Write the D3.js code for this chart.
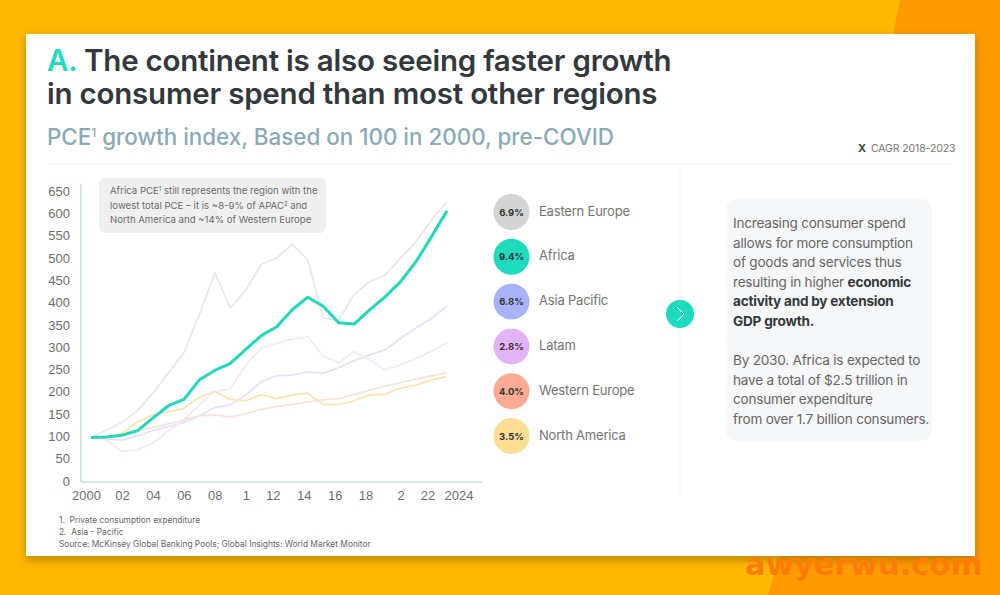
<!DOCTYPE html>
<html>
<head>
<meta charset="utf-8">
<script src="https://cdn.jsdelivr.net/npm/d3@7"></script>
<style>
    html, body { margin: 0; padding: 0; background: #ffb800; overflow: hidden; }
    svg { display: block; font-family: Inter, "Open Sans", sans-serif; }
    .tick text { font-size: 13px; fill: #6e6e6e; }
</style>
</head>
<body>
<svg id="chart" width="1000" height="595"></svg>
<script>
var years = d3.range(2000, 2024);

var easternEurope = [100,116,133,160,199,244,290,375,469,390,430,488,502,533,498,368,362,421,449,464,502,539,587,628];
var africa        = [100,101,105,115,143,171,185,229,250,266,297,328,348,386,414,394,357,354,386,415,449,494,550,608];
var asiaPacific   = [100,96,94,103,115,124,133,148,167,173,195,225,238,240,247,244,256,272,285,296,322,345,367,394];
var latam         = [100,94,68,72,87,115,139,173,203,208,262,300,311,320,326,282,267,292,274,252,262,277,294,312];
var westernEurope = [100,100,102,115,122,130,139,148,150,146,153,163,169,174,179,184,187,196,206,215,223,231,238,245];
var northAmerica  = [100,100,109,135,150,158,165,190,203,185,182,196,187,195,199,174,174,182,195,197,210,217,229,237];

var legendNames = ['Eastern Europe', 'Africa', 'Asia Pacific', 'Latam', 'Western Europe', 'North America'];
var legendCagr = ['6.9%', '9.4%', '6.8%', '2.8%', '4.0%', '3.5%'];
var legendColors = ['#d4d4d4', '#1edbbe', '#a9b3f8', '#e3b3f8', '#fcaa92', '#fbdd93'];
var lineColors = ['#e8e8e8', '#22d8ba', '#e1e3fb', '#f5e7fb', '#fae2d9', '#fbe5ae'];

var yTicks = d3.range(0, 651, 50);
var xTicks = d3.range(2000, 2025, 2);
var xTickLabels = ['2000', '02', '04', '06', '08', '1', '12', '14', '16', '18', '2', '22', '2024'];

var noteLines = [
    ['Africa PCE', '1', ' still represents the region with the'],
    ['lowest total PCE \u2013 it is ~8-9% of APAC', '2', ' and'],
    ['North America and ~14% of Western Europe']
];
var sideText = [
    [['Increasing consumer spend', 0]],
    [['allows for more consumption', 0]],
    [['of goods and services thus', 0]],
    [['resulting in higher ', 0], ['economic', 1]],
    [['activity and by extension', 1]],
    [['GDP growth.', 1]],
    [],
    [['By 2030. Africa is expected to', 0]],
    [['have a total of $2.5 trillion in', 0]],
    [['consumer expenditure', 0]],
    [['from over 1.7 billion consumers.', 0]]
];
var footnotes = ['1.\u00a0\u00a0Private consumption expenditure', '2.\u00a0\u00a0Asia - Pacific', 'Source: McKinsey Global Banking Pools; Global Insights: World Market Monitor'];

var svg = d3.select('#chart');

// background
svg.append('rect').attr('width', 1000).attr('height', 595).attr('fill', '#ffb800');
svg.append('path').attr('d', 'M900,0L1000,0L1000,595L768,595L780,556L893,34Z').attr('fill', '#ff9a00');

var defs = svg.append('defs');
var shadow = defs.append('filter').attr('id', 'cardShadow').attr('x', '-5%').attr('y', '-5%').attr('width', '110%').attr('height', '112%');
shadow.append('feDropShadow').attr('dx', 0).attr('dy', 4).attr('stdDeviation', 5).attr('flood-color', '#8a5a00').attr('flood-opacity', 0.55);

svg.append('rect').attr('x', 26).attr('y', 34).attr('width', 949).attr('height', 522).attr('fill', '#fff').attr('filter', 'url(#cardShadow)');

svg.append('text').attr('x', 745).attr('y', 575).attr('font-size', 30.6).attr('font-weight', 700)
    .attr('font-family', '"DejaVu Sans", sans-serif').attr('fill', '#fb7d08').text('awyerwu.com');

// title
var title = svg.append('g').attr('font-size', 29.5).attr('font-weight', 600).attr('letter-spacing', -0.22).attr('fill', '#33383c');
var firstLine = title.append('text').attr('x', 47).attr('y', 71);
firstLine.append('tspan').attr('fill', '#1edbbe').text('A.');
firstLine.append('tspan').text(' The continent is also seeing faster growth');
title.append('text').attr('x', 47).attr('y', 104).text('in consumer spend than most other regions');

var subtitle = svg.append('text').attr('x', 47).attr('y', 144.5).attr('font-size', 22.4).attr('font-weight', 500).attr('fill', '#8aaab6');
subtitle.append('tspan').text('PCE');
subtitle.append('tspan').attr('font-size', 12).attr('dy', -8).text('1');
subtitle.append('tspan').attr('dy', 8).text(' growth index, Based on 100 in 2000, pre-COVID');

svg.append('text').attr('x', 858).attr('y', 152).attr('font-size', 11).attr('font-weight', 700).attr('fill', '#444').text('X');
svg.append('text').attr('x', 871).attr('y', 152).attr('font-size', 10.5).attr('letter-spacing', -0.12).attr('fill', '#777').text('CAGR 2018-2023');

// dotted separators
svg.append('line').attr('x1', 47).attr('x2', 955).attr('y1', 164).attr('y2', 164)
    .attr('stroke', '#e6e6e6').attr('stroke-dasharray', '1.5 2.5');
svg.append('line').attr('x1', 680).attr('x2', 680).attr('y1', 164).attr('y2', 495)
    .attr('stroke', '#e6e6e6').attr('stroke-dasharray', '1.5 2.5');

// scales and axes
var x = d3.scaleLinear().domain([2000, 2023]).range([91, 447]);
var y = d3.scaleLinear().domain([0, 650]).range([482, 192]);

var axisColor = '#c9dcdc';
svg.append('line').attr('x1', 81).attr('x2', 81).attr('y1', y(668)).attr('y2', y(0))
    .attr('stroke', axisColor).attr('stroke-width', 1.5);
svg.append('line').attr('x1', 81).attr('x2', 482).attr('y1', y(0)).attr('y2', y(0))
    .attr('stroke', axisColor).attr('stroke-width', 1.5);

var yAxis = svg.append('g').attr('transform', 'translate(70,-1)')
    .call(d3.axisLeft(y).tickValues(yTicks).tickSize(0).tickPadding(0));
yAxis.select('.domain').remove();

var xAxis = svg.append('g').attr('transform', 'translate(0,' + (y(0) + 3) + ')')
    .call(d3.axisBottom(x).tickValues(xTicks).tickSize(0).tickPadding(6)
        .tickFormat(function(d, i) { return xTickLabels[i]; }));
xAxis.select('.domain').remove();
// the labels sit a little off their years in the original
xAxis.selectAll('text').attr('dx', function(d) {
    if (d === 2000) return -5;
    if (d >= 2012 && d !== 2020) return -4;
    return 0;
});

// lines, Africa last so it stays on top
var line = d3.line()
    .x(function(d, i) { return x(years[i]); })
    .y(function(d) { return y(d); });

var seriesList = [easternEurope, asiaPacific, latam, westernEurope, northAmerica, africa];
var seriesColors = [lineColors[0], lineColors[2], lineColors[3], lineColors[4], lineColors[5], lineColors[1]];
svg.append('g').selectAll('path').data(seriesList).enter().append('path')
    .attr('d', line)
    .attr('fill', 'none')
    .attr('stroke', function(d, i) { return seriesColors[i]; })
    .attr('stroke-width', function(d) { return d === africa ? 3 : 1.8; })
    .attr('stroke-linejoin', 'round');

// note box
svg.append('rect').attr('x', 99).attr('y', 178).attr('width', 227).attr('height', 55).attr('rx', 6).attr('fill', '#efefef');
var note = svg.append('g').attr('font-size', 9.6).attr('fill', '#6b6b6b');
noteLines.forEach(function(parts, i) {
    var t = note.append('text').attr('x', 110).attr('y', 194 + i * 14.5);
    parts.forEach(function(part, j) {
        var tspan = t.append('tspan').text(part);
        if (j === 1) tspan.attr('font-size', 6).attr('dy', -3);
        if (j === 2) tspan.attr('dy', 3);
    });
});

// legend
var legendY = d3.scalePoint().domain(legendNames).range([212, 436]);
var legend = svg.append('g').selectAll('g').data(legendNames).enter().append('g')
    .attr('transform', function(d) { return 'translate(511.5,' + legendY(d) + ')'; });
legend.append('circle').attr('r', 18).attr('fill', function(d, i) { return legendColors[i]; });
legend.append('text').attr('text-anchor', 'middle').attr('dy', 3.5).attr('font-size', 9.5).attr('font-weight', 700)
    .attr('fill', '#333').text(function(d, i) { return legendCagr[i]; });
legend.append('text').attr('x', 27.5).attr('dy', 3.5).attr('font-size', 13).attr('letter-spacing', -0.2).attr('fill', '#747474')
    .text(function(d) { return d; });

// arrow
svg.append('circle').attr('cx', 680).attr('cy', 314).attr('r', 14).attr('fill', '#1edbbe');
svg.append('path').attr('d', 'M677,307L684,314L677,321').attr('fill', 'none').attr('stroke', '#fff').attr('stroke-width', 1);

// side text
svg.append('rect').attr('x', 726).attr('y', 199).attr('width', 206).attr('height', 242).attr('rx', 10).attr('fill', '#f6f7f9');
var side = svg.append('g').attr('font-size', 13.6).attr('letter-spacing', -0.23);
sideText.forEach(function(parts, i) {
    var t = side.append('text').attr('x', 733).attr('y', 228 + i * 19.6);
    parts.forEach(function(part) {
        t.append('tspan').attr('font-weight', part[1] ? 700 : 400)
            .attr('fill', part[1] ? '#33383c' : '#666').text(part[0]);
    });
});

// footnotes
svg.append('g').attr('font-size', 8.4).attr('fill', '#666').selectAll('text').data(footnotes).enter().append('text')
    .attr('x', 59)
    .attr('y', function(d, i) { return 523 + i * 12; })
    .text(function(d) { return d; });
</script>
</body>
</html>
